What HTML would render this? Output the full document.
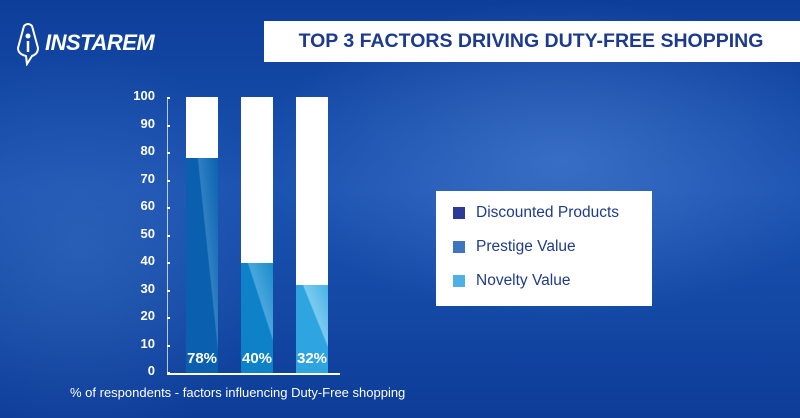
<!DOCTYPE html>
<html><head><meta charset="utf-8"><style>
body{margin:0;width:800px;height:418px;overflow:hidden;font-family:"Liberation Sans",sans-serif;}
#bg{position:absolute;left:0;top:0;width:800px;height:418px;background:
radial-gradient(ellipse 300px 160px at 560px 160px,rgba(90,140,220,.5),rgba(0,0,0,0)),
radial-gradient(ellipse 200px 200px at 80px 250px,rgba(70,120,200,.4),rgba(0,0,0,0)),
linear-gradient(180deg,#0d3e9a 0%,#1a52b0 45%,#144aa6 70%,#0c3c98 100%);}
.t{position:absolute;color:#fff;}
.yl{position:absolute;left:128px;width:27px;text-align:right;color:#fff;font-weight:bold;font-size:13px;font-family:"Liberation Sans Narrow","Liberation Sans",sans-serif;}
.tk{position:absolute;left:167px;width:3px;height:2px;background:#fff;}
.bar{position:absolute;width:32px;background:#fff;}
.fill{position:absolute;left:0;bottom:0;width:100%;}
.pct{position:absolute;bottom:6px;width:100%;text-align:center;color:#fff;font-weight:bold;font-size:15px;font-family:"Liberation Sans Narrow","Liberation Sans",sans-serif;}
.sq{position:absolute;left:17px;width:12px;height:12px;}
.lt{position:absolute;left:40px;font-size:15.5px;color:#1e3b8c;}
</style></head><body>
<div id="bg"></div>
<svg style="position:absolute;left:14px;top:22px" width="30" height="44"><path d="M10 4 Q14 0 18 4 L24 26 Q24 32 18 34 L13 42 L12 34 Q4 32 4 26 Z" fill="none" stroke="#fff" stroke-width="2"/><circle cx="14" cy="14" r="2.5" fill="#fff"/><path d="M14 19 L14 30" stroke="#fff" stroke-width="2.5"/></svg>
<div class="t" style="left:45px;top:30px;font-size:22px;font-weight:bold;font-style:italic;letter-spacing:-0.5px">INSTAREM</div>
<div style="position:absolute;left:264px;top:21px;width:536px;height:41px;background:#fff"></div>
<div style="position:absolute;left:264px;top:30px;width:534px;text-align:center;color:#1c3a8e;font-weight:bold;font-size:19.5px;font-family:'Liberation Sans Narrow','Liberation Sans',sans-serif">TOP 3 FACTORS DRIVING DUTY-FREE SHOPPING</div>

<div style="position:absolute;left:167px;top:97px;width:1px;height:277px;background:rgba(255,255,255,.7)"></div>
<div style="position:absolute;left:167px;top:373px;width:173px;height:2px;background:#fff"></div>
<div class="yl" style="top:88px">100</div><div class="tk" style="top:97px"></div>
<div class="yl" style="top:116px">90</div><div class="tk" style="top:125px"></div>
<div class="yl" style="top:143px">80</div><div class="tk" style="top:152px"></div>
<div class="yl" style="top:171px">70</div><div class="tk" style="top:180px"></div>
<div class="yl" style="top:198px">60</div><div class="tk" style="top:207px"></div>
<div class="yl" style="top:226px">50</div><div class="tk" style="top:235px"></div>
<div class="yl" style="top:253px">40</div><div class="tk" style="top:262px"></div>
<div class="yl" style="top:281px">30</div><div class="tk" style="top:290px"></div>
<div class="yl" style="top:308px">20</div><div class="tk" style="top:317px"></div>
<div class="yl" style="top:336px">10</div><div class="tk" style="top:345px"></div>
<div class="yl" style="top:363px">0</div><div class="tk" style="top:372px"></div>

<div class="bar" style="left:186px;top:97px;height:276px"><div class="fill" style="height:215px;background:linear-gradient(84deg,#0a5fae 62%,#2f7fc2 64%,#0a62b0 100%)"></div><div class="pct">78%</div></div>
<div class="bar" style="left:241px;top:97px;height:276px"><div class="fill" style="height:110px;background:linear-gradient(72deg,#0d82c8 62%,#4aa6dc 64%,#1a8ccc 100%)"></div><div class="pct">40%</div></div>
<div class="bar" style="left:296px;top:97px;height:276px"><div class="fill" style="height:88px;background:linear-gradient(68deg,#2ea5e0 62%,#7ccaee 64%,#45b3e6 100%)"></div><div class="pct">32%</div></div>

<div style="position:absolute;left:436px;top:191px;width:216px;height:115px;background:#fff">
<div class="sq" style="top:16px;background:#2e3a98"></div><div class="lt" style="top:13px">Discounted Products</div>
<div class="sq" style="top:50px;background:#3e74c0"></div><div class="lt" style="top:47px">Prestige Value</div>
<div class="sq" style="top:84px;background:#4eb0e4"></div><div class="lt" style="top:81px">Novelty Value</div>
</div>
<div class="t" style="left:70px;top:385px;font-size:13px">% of respondents - factors influencing Duty-Free shopping</div>
</body></html>
